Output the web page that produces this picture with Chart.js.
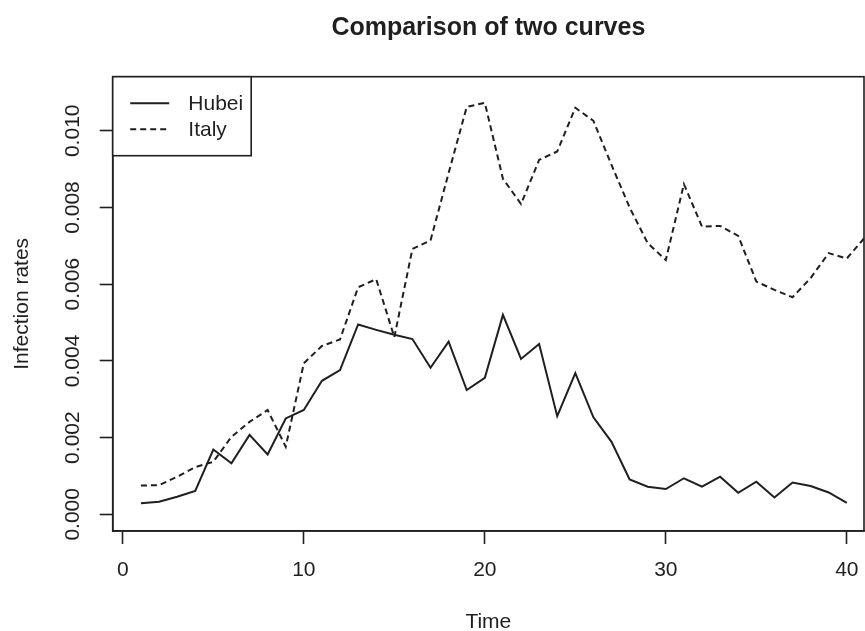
<!DOCTYPE html>
<html>
<head>
<meta charset="utf-8">
<script src="https://cdn.jsdelivr.net/npm/chart.js@4.4.1/dist/chart.umd.min.js"></script>
<style>
html,body{margin:0;padding:0;background:#fff;overflow:hidden}
canvas{display:block}
</style>
</head>
<body>
<canvas id="c" width="865" height="631"></canvas>
<script>
// ---- data ----
const days = [1,2,3,4,5,6,7,8,9,10,11,12,13,14,15,16,17,18,19,20,21,22,23,24,25,26,27,28,29,30,31,32,33,34,35,36,37,38,39,40,41];
const hubei = [0.00029,0.00033,0.00046,0.00061,0.00169,0.00133,0.00207,0.00156,0.00250,0.00272,
               0.00348,0.00376,0.00495,0.00481,0.00468,0.00457,0.00382,0.00450,0.00324,0.00356,
               0.00520,0.00405,0.00444,0.00256,0.00368,0.00253,0.00189,0.00091,0.00072,0.00066,
               0.00094,0.00072,0.00098,0.00056,0.00085,0.00044,0.00083,0.00074,0.00057,0.00030];
const italy = [0.00075,0.00076,0.00098,0.00123,0.00137,0.00202,0.00241,0.00272,0.00176,0.00394,
               0.00439,0.00456,0.00592,0.00613,0.00462,0.00692,0.00714,0.00890,0.01062,0.01073,
               0.00875,0.00809,0.00924,0.00946,0.01060,0.01026,0.00911,0.00800,0.00707,0.00663,
               0.00861,0.00750,0.00752,0.00726,0.00607,0.00585,0.00566,0.00616,0.00681,0.00667,
               0.00722];
const seriesNames = ['Hubei', 'Italy'];
const xTicks = [0, 10, 20, 30, 40];
const yTicks = [0, 0.002, 0.004, 0.006, 0.008, 0.010];
const yTickLabels = ['0.000', '0.002', '0.004', '0.006', '0.008', '0.010'];
const chartTitle = 'Comparison of two curves';
const xTitle = 'Time';
const yTitle = 'Infection rates';

// ---- styling ----
const INK = '#1f1f1f';
const FONT = "'Liberation Sans', Arial, Helvetica, sans-serif";
const LW = 1.6;

const boxPlugin = {
  id: 'rBox',
  afterDatasetsDraw(chart) {
    const {ctx, chartArea: a} = chart;
    ctx.save();
    ctx.strokeStyle = INK;
    ctx.lineWidth = LW;
    ctx.strokeRect(a.left, a.top, a.right - a.left, a.bottom - a.top);
    ctx.restore();
  }
};

const legendPlugin = {
  id: 'rLegend',
  afterDraw(chart) {
    const {ctx, chartArea: a} = chart;
    const x0 = a.left, y0 = a.top, w = 138.5, h = 79;
    ctx.save();
    ctx.fillStyle = '#fff';
    ctx.fillRect(x0, y0, w, h);
    ctx.strokeStyle = INK;
    ctx.lineWidth = LW;
    ctx.strokeRect(x0, y0, w, h);
    chart.data.datasets.forEach((ds, i) => {
      const y = y0 + 26.6 + i * 26;
      ctx.beginPath();
      ctx.setLineDash(ds.borderDash || []);
      ctx.lineWidth = ds.borderWidth;
      ctx.strokeStyle = ds.borderColor;
      ctx.moveTo(x0 + 17.5, y);
      ctx.lineTo(x0 + 56.5, y);
      ctx.stroke();
      ctx.setLineDash([]);
      ctx.fillStyle = INK;
      ctx.font = '21px ' + FONT;
      ctx.textBaseline = 'middle';
      ctx.textAlign = 'left';
      ctx.fillText(ds.label, x0 + 75.6, y + 1);
    });
    ctx.restore();
  }
};

new Chart(document.getElementById('c'), {
  type: 'line',
  data: {
    datasets: [
      {
        label: seriesNames[0],
        data: hubei.map((v, i) => ({x: days[i], y: v})),
        borderColor: INK, borderWidth: 2, pointRadius: 0, tension: 0, fill: false
      },
      {
        label: seriesNames[1],
        data: italy.map((v, i) => ({x: days[i], y: v})),
        borderColor: INK, borderWidth: 2, borderDash: [6, 4], pointRadius: 0, tension: 0, fill: false
      }
    ]
  },
  options: {
    responsive: false,
    animation: false,
    devicePixelRatio: 1,
    layout: {padding: {left: 0, right: 1, top: 0, bottom: 0}},
    plugins: {
      legend: {display: false},
      tooltip: {enabled: false},
      title: {
        display: true, text: chartTitle, fullSize: false, color: INK,
        font: {family: FONT, size: 25, weight: 'bold', lineHeight: 1.2},
        padding: {top: 13, bottom: 33.7}
      }
    },
    scales: {
      x: {
        type: 'linear', min: -0.56, max: 40.95,
        afterBuildTicks: s => { s.ticks = xTicks.map(v => ({value: v})); },
        afterFit: s => { s.height = 100; s.paddingLeft = 0; s.paddingRight = 0; },
        grid: {display: true, drawOnChartArea: false, drawTicks: true, tickLength: 13, tickColor: INK, tickWidth: LW, color: INK},
        border: {display: true, color: INK, width: LW},
        ticks: {color: INK, font: {family: FONT, size: 21}, padding: 14, maxRotation: 0, minRotation: 0, autoSkip: false},
        title: {display: true, text: xTitle, color: INK, font: {family: FONT, size: 21, lineHeight: 0.8}, padding: 0}
      },
      y: {
        type: 'linear', min: -0.000435, max: 0.01141,
        afterBuildTicks: s => { s.ticks = yTicks.map(v => ({value: v})); },
        afterFit: s => { s.width = 112.7; s.paddingTop = 0; s.paddingBottom = 0; },
        grid: {display: true, drawOnChartArea: false, drawTicks: true, tickLength: 13, tickColor: INK, tickWidth: LW, color: INK},
        border: {display: true, color: INK, width: LW},
        ticks: {
          color: INK, font: {family: FONT, size: 21}, padding: 0,
          minRotation: 90, maxRotation: 90, crossAlign: 'center', autoSkip: false,
          callback: (v) => { const k = yTicks.indexOf(v); return k >= 0 ? yTickLabels[k] : ''; }
        },
        title: {display: true, text: yTitle, color: INK, font: {family: FONT, size: 21, lineHeight: 0.8}, padding: {top: 14, bottom: 0}}
      }
    }
  },
  plugins: [boxPlugin, legendPlugin]
});
</script>
</body>
</html>
